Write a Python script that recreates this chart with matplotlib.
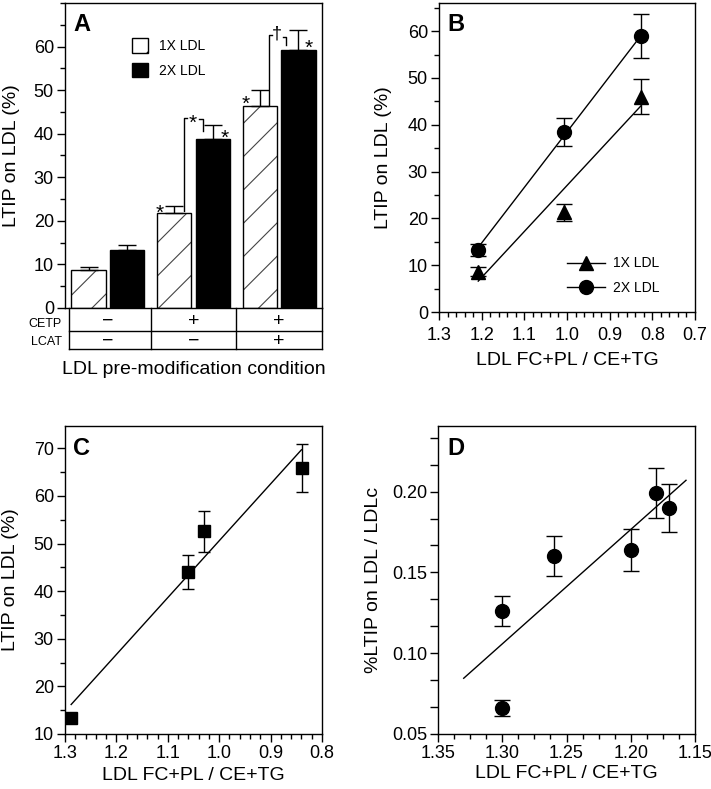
import matplotlib
matplotlib.use('Agg')
import matplotlib.pyplot as plt
from matplotlib.ticker import MultipleLocator, FormatStrFormatter
from matplotlib.patches import Patch
from matplotlib.lines import Line2D
import numpy as np

plt.rcParams['font.family'] = ['Liberation Sans', 'DejaVu Sans']
plt.rcParams['hatch.linewidth'] = 0.8

# ---------------- Data ----------------
# Panel A
groups = [0, 1, 2]
cetp_signs = ['\u2212', '+', '+']
lcat_signs = ['\u2212', '\u2212', '+']
a_1x = [8.7, 21.8, 46.3]
a_1x_err = [0.6, 1.7, 3.8]
a_2x = [13.3, 38.8, 59.1]
a_2x_err = [1.2, 3.2, 4.8]

# Panel B
b_x = [1.208, 1.007, 0.827]
b_1x = [8.6, 21.3, 46.0]
b_1x_err = [1.0, 1.8, 3.7]
b_2x = [13.2, 38.5, 59.0]
b_2x_err = [1.3, 3.0, 4.7]
b_fit_x = [1.208, 0.827]
b_fit_1x = [6.6, 44.0]
b_fit_2x = [13.8, 59.0]

# Panel C
c_x = [1.288, 1.06, 1.03, 0.838]
c_y = [13.4, 44.0, 52.6, 65.9]
c_err = [0.8, 3.5, 4.3, 5.0]
c_fit_x = [1.288, 0.84]
c_fit_y = [16.2, 69.7]

# Panel D
d_x = [1.30, 1.30, 1.26, 1.20, 1.18, 1.17]
d_y = [0.126, 0.066, 0.160, 0.164, 0.199, 0.190]
d_err = [0.0093, 0.005, 0.0125, 0.013, 0.0155, 0.015]
d_fit_x = [1.33, 1.157]
d_fit_y = [0.0845, 0.207]

# ---------------- Figure ----------------
W, H = 711, 789
fig = plt.figure(figsize=(W / 100, H / 100), dpi=100)


def rect(l, r, t, b):
    return [l / W, (H - b) / H, (r - l) / W, (b - t) / H]


TICK_FS = 13
LABEL_FS = 14


def style_axes(ax):
    for s in ax.spines.values():
        s.set_linewidth(1.0)
    ax.tick_params(which='both', direction='out', top=False, right=False,
                   labelsize=TICK_FS, width=1.0, pad=2)
    ax.tick_params(which='major', length=6)
    ax.tick_params(which='minor', length=3.5)


# ---------- Panel A ----------
axA = fig.add_axes(rect(65, 322, 3, 308))
style_axes(axA)
x = np.array(groups, dtype=float)
w, off = 0.4, 0.225
axA.bar(x - off, a_1x, w, color='white', edgecolor='#444444', hatch='/', linewidth=0, zorder=2)
axA.bar(x - off, a_1x, w, fill=False, edgecolor='black', linewidth=1.0, zorder=3)
axA.bar(x + off, a_2x, w, color='black', edgecolor='black', linewidth=1.0, zorder=3)
axA.errorbar(x - off, a_1x, yerr=[np.zeros(3), a_1x_err], fmt='none', ecolor='black',
             elinewidth=1.0, capsize=6.5, capthick=1.0, zorder=4)
axA.errorbar(x + off, a_2x, yerr=[np.zeros(3), a_2x_err], fmt='none', ecolor='black',
             elinewidth=1.0, capsize=6.5, capthick=1.0, zorder=4)
axA.set_xlim(-0.5, 2.5)
axA.set_ylim(0, 70)
axA.yaxis.set_minor_locator(MultipleLocator(5))
axA.set_yticks([0, 10, 20, 30, 40, 50, 60])
axA.set_xticks([])
axA.set_ylabel('LTIP on LDL (%)', fontsize=LABEL_FS)
axA.yaxis.set_label_coords(-0.175, 0.5)
axA.text(0.031, 0.967, 'A', transform=axA.transAxes, ha='left', va='top',
         fontsize=17, fontweight='bold')

# significance brackets
lk = dict(color='black', lw=1.0, zorder=5)
axA.plot([0.887, 0.887, 0.922], [22.2, 43.7, 43.7], **lk)
axA.plot([1.07, 1.108, 1.108], [43.4, 43.4, 40.6], **lk)
axA.plot([1.876, 1.876, 1.915], [46.6, 62.6, 62.6], **lk)
axA.plot([2.05, 2.078, 2.078], [62.2, 62.2, 60.4], **lk)
sk = dict(ha='center', va='center', fontsize=15, zorder=6)
axA.text(0.985, 42.4, '*', **sk)
axA.text(1.36, 39.0, '*', **sk)
axA.text(0.605, 21.7, '*', **sk)
axA.text(1.605, 46.8, '*', **sk)
axA.text(2.35, 59.5, '*', **sk)
axA.text(1.97, 62.8, '\u2020', ha='center', va='center', fontsize=13, zorder=6)

axA.legend(handles=[Patch(facecolor='white', edgecolor='black', hatch='/', lw=1.0),
                    Patch(facecolor='black', edgecolor='black', lw=1.0)],
           labels=['1X LDL', '2X LDL'], loc='upper left',
           bbox_to_anchor=(0.262, 0.885), frameon=False, fontsize=10,
           borderpad=0, borderaxespad=0, handlelength=1.15, handleheight=1.25,
           handletextpad=0.75, labelspacing=0.7)

# table below panel A
tr = axA.get_xaxis_transform()
y1, y2 = -0.0754, -0.1354
xl, xr = -0.453, 2.5
tk = dict(color='black', lw=1.0, transform=tr, clip_on=False)
for yy in (y1, y2):
    axA.plot([xl, xr], [yy, yy], **tk)
for xx in (xl, 0.5, 1.5, xr):
    axA.plot([xx, xx], [0, y2], **tk)
for i, g in enumerate(groups):
    axA.text(g, (0 + y1) / 2 - 0.006, cetp_signs[i], transform=tr, ha='center', va='center', fontsize=14)
    axA.text(g, (y1 + y2) / 2 - 0.004, lcat_signs[i], transform=tr, ha='center', va='center', fontsize=14)
axA.text(-0.012, -0.053, 'CETP', transform=axA.transAxes, ha='right', va='center', fontsize=9)
axA.text(-0.012, -0.112, 'LCAT', transform=axA.transAxes, ha='right', va='center', fontsize=9)
axA.text(0.5, -0.203, 'LDL pre-modification condition', transform=axA.transAxes,
         ha='center', va='center', fontsize=LABEL_FS)

# ---------- Panel B ----------
axB = fig.add_axes(rect(439, 695, 3, 312))
style_axes(axB)
axB.plot(b_fit_x, b_fit_1x, color='black', lw=1.0, zorder=2)
axB.plot(b_fit_x, b_fit_2x, color='black', lw=1.0, zorder=2)
axB.errorbar(b_x, b_1x, yerr=b_1x_err, fmt='^', color='black', ms=10, capsize=5.5,
             elinewidth=1.0, capthick=1.0, zorder=3)
axB.errorbar(b_x, b_2x, yerr=b_2x_err, fmt='o', color='black', ms=10, capsize=5.5,
             elinewidth=1.0, capthick=1.0, zorder=3)
axB.set_xlim(1.3, 0.7)
axB.set_ylim(0, 66)
axB.xaxis.set_major_locator(MultipleLocator(0.1))
axB.xaxis.set_minor_locator(MultipleLocator(0.02))
axB.yaxis.set_major_locator(MultipleLocator(10))
axB.yaxis.set_minor_locator(MultipleLocator(5))
axB.xaxis.set_major_formatter(FormatStrFormatter('%.1f'))
axB.tick_params(axis='x', which='major', pad=5)
axB.set_ylabel('LTIP on LDL (%)', fontsize=LABEL_FS)
axB.yaxis.set_label_coords(-0.184, 0.5)
axB.set_xlabel('LDL FC+PL / CE+TG', fontsize=LABEL_FS)
axB.xaxis.set_label_coords(0.5, -0.129)
axB.text(0.031, 0.968, 'B', transform=axB.transAxes, ha='left', va='top',
         fontsize=17, fontweight='bold')
axB.legend(handles=[Line2D([], [], color='black', lw=1.0, marker='^', ms=10),
                    Line2D([], [], color='black', lw=1.0, marker='o', ms=10)],
           labels=['1X LDL', '2X LDL'], loc='upper left', bbox_to_anchor=(0.5, 0.18),
           frameon=False, fontsize=10, borderpad=0, borderaxespad=0,
           handlelength=2.7, handletextpad=0.6, labelspacing=0.75)

# ---------- Panel C ----------
axC = fig.add_axes(rect(65, 322, 426, 734))
style_axes(axC)
axC.plot(c_fit_x, c_fit_y, color='black', lw=1.0, zorder=2)
axC.errorbar(c_x, c_y, yerr=c_err, fmt='s', color='black', ms=9, capsize=4.5,
             elinewidth=1.0, capthick=1.0, zorder=3)
axC.set_xlim(1.3, 0.8)
axC.set_ylim(10, 74.7)
axC.xaxis.set_major_locator(MultipleLocator(0.1))
axC.xaxis.set_minor_locator(MultipleLocator(0.02))
axC.yaxis.set_major_locator(MultipleLocator(10))
axC.yaxis.set_minor_locator(MultipleLocator(5))
axC.xaxis.set_major_formatter(FormatStrFormatter('%.1f'))
axC.set_ylabel('LTIP on LDL (%)', fontsize=LABEL_FS)
axC.yaxis.set_label_coords(-0.18, 0.5)
axC.set_xlabel('LDL FC+PL / CE+TG', fontsize=LABEL_FS)
axC.xaxis.set_label_coords(0.5, -0.107)
axC.text(0.031, 0.964, 'C', transform=axC.transAxes, ha='left', va='top',
         fontsize=17, fontweight='bold')

# ---------- Panel D ----------
axD = fig.add_axes(rect(438, 695, 426, 734))
style_axes(axD)
axD.plot(d_fit_x, d_fit_y, color='black', lw=1.0, zorder=2)
axD.errorbar(d_x, d_y, yerr=d_err, fmt='o', color='black', ms=10, capsize=5.5,
             elinewidth=1.0, capthick=1.0, zorder=3)
axD.set_xlim(1.35, 1.15)
axD.set_ylim(0.05, 0.2406)
axD.xaxis.set_major_locator(MultipleLocator(0.05))
axD.xaxis.set_minor_locator(MultipleLocator(0.0125))
axD.yaxis.set_major_locator(MultipleLocator(0.05))
axD.yaxis.set_minor_locator(MultipleLocator(0.05 / 3))
axD.tick_params(axis='y', which='minor', length=6)
axD.xaxis.set_major_formatter(FormatStrFormatter('%.2f'))
axD.yaxis.set_major_formatter(FormatStrFormatter('%.2f'))
axD.set_ylabel('%LTIP on LDL / LDLc', fontsize=LABEL_FS)
axD.yaxis.set_label_coords(-0.217, 0.5)
axD.set_xlabel('LDL FC+PL / CE+TG', fontsize=LABEL_FS)
axD.xaxis.set_label_coords(0.5, -0.10)
axD.text(0.035, 0.964, 'D', transform=axD.transAxes, ha='left', va='top',
         fontsize=17, fontweight='bold')

fig.savefig('out.png', dpi=100)
